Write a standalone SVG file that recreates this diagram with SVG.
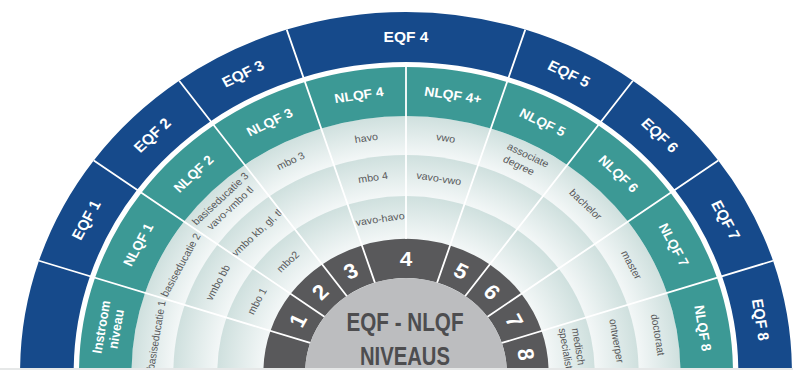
<svg xmlns="http://www.w3.org/2000/svg" width="793" height="370" viewBox="0 0 793 370">
<defs>
<clipPath id="clip"><rect x="0" y="0" width="793" height="368"/></clipPath>
<radialGradient id="band1" gradientUnits="userSpaceOnUse" cx="0" cy="0" r="256">
<stop offset="0.848" stop-color="#f3f7f7"/><stop offset="1" stop-color="#cfe0de"/></radialGradient>
<radialGradient id="band2" gradientUnits="userSpaceOnUse" cx="0" cy="0" r="217">
<stop offset="0.811" stop-color="#f3f7f7"/><stop offset="1" stop-color="#cfe0de"/></radialGradient>
<radialGradient id="band3" gradientUnits="userSpaceOnUse" cx="0" cy="0" r="176">
<stop offset="0.756" stop-color="#f3f7f7"/><stop offset="1" stop-color="#cfe0de"/></radialGradient>
<style>
.eqf{fill:#164a8b}
.nlqf{fill:#3c9995}
.dk{fill:#59595b}
.te{font-family:"Liberation Sans",Arial,sans-serif;font-weight:bold;font-size:14.5px;fill:#fff;text-anchor:middle}
.tn{font-family:"Liberation Sans",Arial,sans-serif;font-weight:bold;font-size:13px;fill:#fff;text-anchor:middle}
.num{font-family:"Liberation Sans",Arial,sans-serif;font-weight:bold;font-size:21px;fill:#fff;text-anchor:middle}
.tb{font-family:"Liberation Sans",Arial,sans-serif;font-size:10px;fill:#58595b;text-anchor:middle}
.ctr{font-family:"Liberation Sans",Arial,sans-serif;font-weight:bold;font-size:26.5px;fill:#4d4d4f;text-anchor:middle}
.sep{stroke:#fff;stroke-width:1.8;fill:none;vector-effect:non-scaling-stroke}
</style>
</defs>
<rect x="0" y="0" width="793" height="370" fill="#fff"/>
<rect x="0" y="368" width="793" height="2" fill="#e6e8e8"/>
<g clip-path="url(#clip)">
<g transform="translate(406,372) scale(1.072,1)">
<g id="bands">
<circle r="256" fill="url(#band1)"/>
<circle r="217" fill="url(#band2)"/>
<circle r="176" fill="url(#band3)"/>
</g>
<g id="eqf-ring">
<g id="eqf0"><path class="eqf" d="M -360 0 A 360 360 0 0 1 -342.38 -111.25 L -294.83 -95.80 A 310 310 0 0 0 -310 0 Z"/></g>
<g id="eqf1"><path class="eqf" d="M -342.38 -111.25 A 360 360 0 0 1 -291.25 -211.60 L -250.80 -182.21 A 310 310 0 0 0 -294.83 -95.80 Z"/><text class="te" transform="rotate(-63) translate(0,-335)" y="5.2">EQF 1</text></g>
<g id="eqf2"><path class="eqf" d="M -291.25 -211.60 A 360 360 0 0 1 -211.60 -291.25 L -182.21 -250.80 A 310 310 0 0 0 -250.80 -182.21 Z"/><text class="te" transform="rotate(-45) translate(0,-335)" y="5.2">EQF 2</text></g>
<g id="eqf3"><path class="eqf" d="M -211.60 -291.25 A 360 360 0 0 1 -111.25 -342.38 L -95.80 -294.83 A 310 310 0 0 0 -182.21 -250.80 Z"/><text class="te" transform="rotate(-27) translate(0,-335)" y="5.2">EQF 3</text></g>
<g id="eqf4"><path class="eqf" d="M -111.25 -342.38 A 360 360 0 0 1 111.25 -342.38 L 95.80 -294.83 A 310 310 0 0 0 -95.80 -294.83 Z"/><text class="te" transform="translate(0,-335)" y="5.2">EQF 4</text></g>
<g id="eqf5"><path class="eqf" d="M 111.25 -342.38 A 360 360 0 0 1 211.60 -291.25 L 182.21 -250.80 A 310 310 0 0 0 95.80 -294.83 Z"/><text class="te" transform="rotate(27) translate(0,-335)" y="5.2">EQF 5</text></g>
<g id="eqf6"><path class="eqf" d="M 211.60 -291.25 A 360 360 0 0 1 291.25 -211.60 L 250.80 -182.21 A 310 310 0 0 0 182.21 -250.80 Z"/><text class="te" transform="rotate(45) translate(0,-335)" y="5.2">EQF 6</text></g>
<g id="eqf7"><path class="eqf" d="M 291.25 -211.60 A 360 360 0 0 1 342.38 -111.25 L 294.83 -95.80 A 310 310 0 0 0 250.80 -182.21 Z"/><text class="te" transform="rotate(63) translate(0,-335)" y="5.2">EQF 7</text></g>
<g id="eqf8"><path class="eqf" d="M 342.38 -111.25 A 360 360 0 0 1 360 0 L 310 0 A 310 310 0 0 0 294.83 -95.80 Z"/><text class="te" transform="rotate(81) translate(0,-335)" y="5.2">EQF 8</text></g>
</g>
<g id="nlqf-ring">
<g id="nlqf-instroom"><path class="nlqf" d="M -305 0 A 305 305 0 0 1 -290.07 -94.25 L -243.47 -79.11 A 256 256 0 0 0 -256 0 Z"/><text class="tn" transform="rotate(-81) translate(0,-281)" style="font-size:12.5px"><tspan x="0" y="-2.5">Instroom</tspan><tspan x="0" y="11.5">niveau</tspan></text></g>
<g id="nlqf1"><path class="nlqf" d="M -290.07 -94.25 A 305 305 0 0 1 -246.75 -179.27 L -207.11 -150.47 A 256 256 0 0 0 -243.47 -79.11 Z"/><text class="tn" transform="rotate(-63) translate(0,-280.5)" y="4.7">NLQF 1</text></g>
<g id="nlqf2"><path class="nlqf" d="M -246.75 -179.27 A 305 305 0 0 1 -179.27 -246.75 L -150.47 -207.11 A 256 256 0 0 0 -207.11 -150.47 Z"/><text class="tn" transform="rotate(-45) translate(0,-280.5)" y="4.7">NLQF 2</text></g>
<g id="nlqf3"><path class="nlqf" d="M -179.27 -246.75 A 305 305 0 0 1 -94.25 -290.07 L -79.11 -243.47 A 256 256 0 0 0 -150.47 -207.11 Z"/><text class="tn" transform="rotate(-27) translate(0,-280.5)" y="4.7">NLQF 3</text></g>
<g id="nlqf4"><path class="nlqf" d="M -94.25 -290.07 A 305 305 0 0 1 0 -305 L 0 -256 A 256 256 0 0 0 -79.11 -243.47 Z"/><text class="tn" transform="rotate(-9) translate(0,-280.5)" y="4.7">NLQF 4</text></g>
<g id="nlqf4plus"><path class="nlqf" d="M 0 -305 A 305 305 0 0 1 94.25 -290.07 L 79.11 -243.47 A 256 256 0 0 0 0 -256 Z"/><text class="tn" transform="rotate(9) translate(0,-280.5)" y="4.7">NLQF 4+</text></g>
<g id="nlqf5"><path class="nlqf" d="M 94.25 -290.07 A 305 305 0 0 1 179.27 -246.75 L 150.47 -207.11 A 256 256 0 0 0 79.11 -243.47 Z"/><text class="tn" transform="rotate(27) translate(0,-280.5)" y="4.7">NLQF 5</text></g>
<g id="nlqf6"><path class="nlqf" d="M 179.27 -246.75 A 305 305 0 0 1 246.75 -179.27 L 207.11 -150.47 A 256 256 0 0 0 150.47 -207.11 Z"/><text class="tn" transform="rotate(45) translate(0,-280.5)" y="4.7">NLQF 6</text></g>
<g id="nlqf7"><path class="nlqf" d="M 246.75 -179.27 A 305 305 0 0 1 290.07 -94.25 L 243.47 -79.11 A 256 256 0 0 0 207.11 -150.47 Z"/><text class="tn" transform="rotate(63) translate(0,-280.5)" y="4.7">NLQF 7</text></g>
<g id="nlqf8"><path class="nlqf" d="M 290.07 -94.25 A 305 305 0 0 1 305 0 L 256 0 A 256 256 0 0 0 243.47 -79.11 Z"/><text class="tn" transform="rotate(81) translate(0,-280.5)" y="4.7">NLQF 8</text></g>
</g>
<g id="qualifications">
<g id="q-basiseducatie1"><text class="tb" transform="rotate(-81) translate(0,-236)" y="3.5">basiseducatie 1</text></g>
<g id="q-basiseducatie2"><text class="tb" transform="rotate(-63) translate(0,-236)" y="3.5">basiseducatie 2</text></g>
<g id="q-vmbobb"><text class="tb" transform="rotate(-63) translate(0,-197)" y="3.5">vmbo bb</text></g>
<g id="q-mbo1"><text class="tb" transform="rotate(-63) translate(0,-156)" y="3.5">mbo 1</text></g>
<g id="q-basiseducatie3"><text class="tb" transform="rotate(-45) translate(0,-238.5)"><tspan x="0" y="-3">basiseducatie 3</tspan><tspan x="0" y="10">vavo-vmbo tl</tspan></text></g>
<g id="q-vmbokb"><text class="tb" transform="rotate(-45) translate(0,-197)" y="3.5">vmbo kb, gl, tl</text></g>
<g id="q-mbo2"><text class="tb" transform="rotate(-45) translate(0,-156)" y="3.5">mbo2</text></g>
<g id="q-mbo3"><text class="tb" transform="rotate(-27) translate(0,-237)" y="3.5">mbo 3</text></g>
<g id="q-havo"><text class="tb" transform="rotate(-9) translate(0,-237)" y="3.5">havo</text></g>
<g id="q-mbo4"><text class="tb" transform="rotate(-9) translate(0,-197)" y="3.5">mbo 4</text></g>
<g id="q-vavohavo"><text class="tb" transform="rotate(-9) translate(0,-155)" y="3.5">vavo-havo</text></g>
<g id="q-vwo"><text class="tb" transform="rotate(9) translate(0,-237)" y="3.5">vwo</text></g>
<g id="q-vavovwo"><text class="tb" transform="rotate(9) translate(0,-196)" y="3.5">vavo-vwo</text></g>
<g id="q-associate"><text class="tb" transform="rotate(27) translate(0,-238.5)"><tspan x="3" y="-3">associate</tspan><tspan x="0" y="10">degree</tspan></text></g>
<g id="q-bachelor"><text class="tb" transform="rotate(45) translate(0,-237)" y="3.5">bachelor</text></g>
<g id="q-master"><text class="tb" transform="rotate(63) translate(0,-236)" y="3.5">master</text></g>
<g id="q-doctoraat"><text class="tb" transform="rotate(81) translate(0,-238)" y="3.5">doctoraat</text></g>
<g id="q-ontwerper"><text class="tb" transform="rotate(81) translate(0,-199)" y="3.5">ontwerper</text></g>
<g id="q-medisch"><text class="tb" transform="rotate(81) translate(0,-157)"><tspan x="0" y="-2.5">medisch</tspan><tspan x="0" y="9.5">specialist</tspan></text></g>
</g>
<g id="level-ring">
<g id="lvl0"><path class="dk" d="M -133 0 A 133 133 0 0 1 -126.49 -41.10 L -89.40 -29.05 A 94 94 0 0 0 -94 0 Z"/></g>
<g id="lvl1"><path class="dk" d="M -126.49 -41.10 A 133 133 0 0 1 -107.60 -78.18 L -76.05 -55.25 A 94 94 0 0 0 -89.40 -29.05 Z"/><text class="num" transform="rotate(-63) translate(0,-113.5)" y="7.5">1</text></g>
<g id="lvl2"><path class="dk" d="M -107.60 -78.18 A 133 133 0 0 1 -78.18 -107.60 L -55.25 -76.05 A 94 94 0 0 0 -76.05 -55.25 Z"/><text class="num" transform="rotate(-45) translate(0,-113.5)" y="7.5">2</text></g>
<g id="lvl3"><path class="dk" d="M -78.18 -107.60 A 133 133 0 0 1 -41.10 -126.49 L -29.05 -89.40 A 94 94 0 0 0 -55.25 -76.05 Z"/><text class="num" transform="rotate(-27) translate(0,-113.5)" y="7.5">3</text></g>
<g id="lvl4"><path class="dk" d="M -41.10 -126.49 A 133 133 0 0 1 41.10 -126.49 L 29.05 -89.40 A 94 94 0 0 0 -29.05 -89.40 Z"/><text class="num" transform="translate(0,-113.5)" y="7.5">4</text></g>
<g id="lvl5"><path class="dk" d="M 41.10 -126.49 A 133 133 0 0 1 78.18 -107.60 L 55.25 -76.05 A 94 94 0 0 0 29.05 -89.40 Z"/><text class="num" transform="rotate(27) translate(0,-113.5)" y="7.5">5</text></g>
<g id="lvl6"><path class="dk" d="M 78.18 -107.60 A 133 133 0 0 1 107.60 -78.18 L 76.05 -55.25 A 94 94 0 0 0 55.25 -76.05 Z"/><text class="num" transform="rotate(45) translate(0,-113.5)" y="7.5">6</text></g>
<g id="lvl7"><path class="dk" d="M 107.60 -78.18 A 133 133 0 0 1 126.49 -41.10 L 89.40 -29.05 A 94 94 0 0 0 76.05 -55.25 Z"/><text class="num" transform="rotate(63) translate(0,-113.5)" y="7.5">7</text></g>
<g id="lvl8"><path class="dk" d="M 126.49 -41.10 A 133 133 0 0 1 133 0 L 94 0 A 94 94 0 0 0 89.40 -29.05 Z"/><text class="num" transform="rotate(81) translate(0,-113.5)" y="7.5">8</text></g>
</g>
<g id="centre-disc"><circle r="94" fill="#bcbdbf"/></g>
<g id="separators">
<path class="sep" d="M -89.40 -29.05 L -342.38 -111.25 M -76.05 -55.25 L -291.25 -211.60 M -55.25 -76.05 L -211.60 -291.25 M -29.05 -89.40 L -111.25 -342.38 M 29.05 -89.40 L 111.25 -342.38 M 55.25 -76.05 L 211.60 -291.25 M 76.05 -55.25 L 291.25 -211.60 M 89.40 -29.05 L 342.38 -111.25 M 0 -133 L 0 -305"/>
</g>
</g>
<g id="centre-title">
<text class="ctr" x="405" y="331" textLength="117" lengthAdjust="spacingAndGlyphs">EQF - NLQF</text>
<text class="ctr" x="405" y="365" textLength="90" lengthAdjust="spacingAndGlyphs">NIVEAUS</text>
</g>
</g>
</svg>
